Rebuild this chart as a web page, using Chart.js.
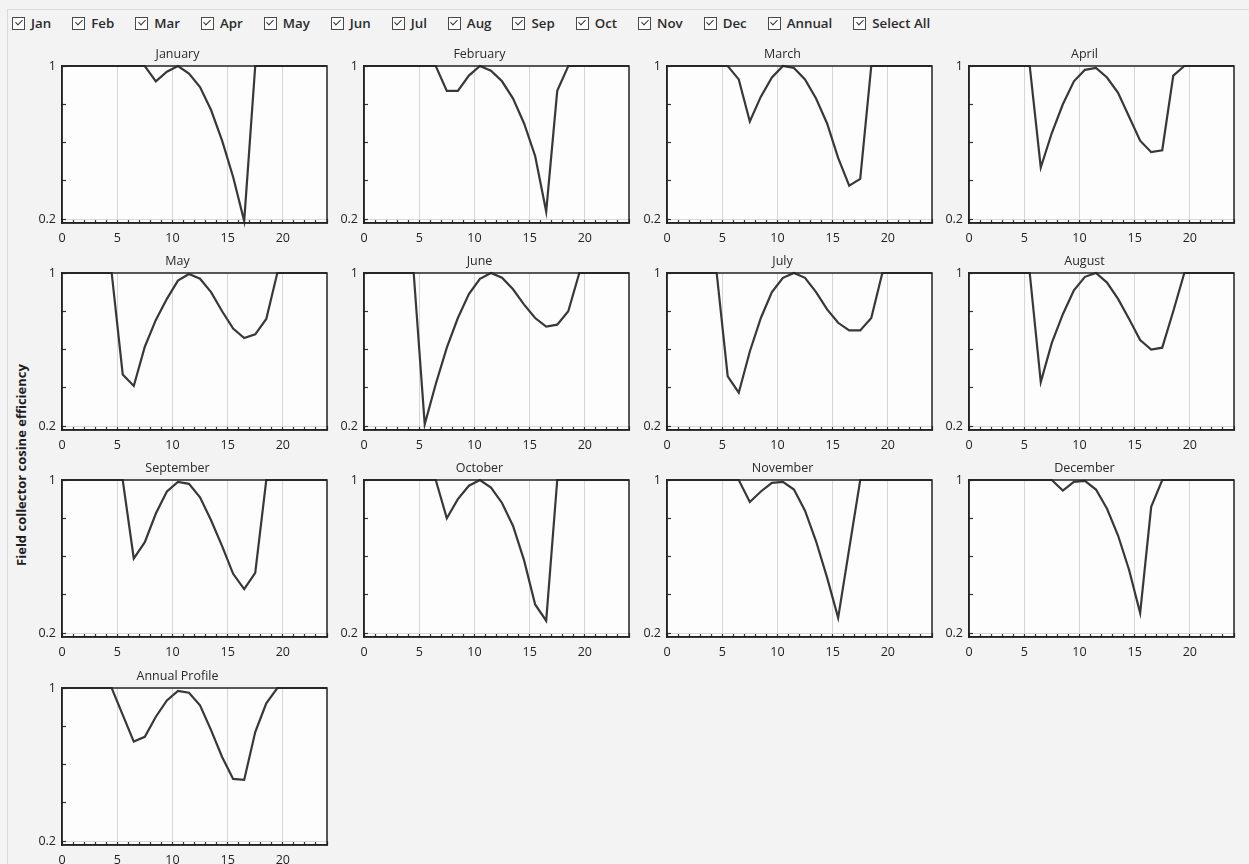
<!DOCTYPE html>
<html>
<head>
<meta charset="utf-8">
<script src="https://cdn.jsdelivr.net/npm/chart.js@4.4.0/dist/chart.umd.min.js"></script>
<style>
  html, body { margin:0; padding:0; width:1249px; height:864px; overflow:hidden; background:#f3f3f3; font-family:"Open Sans", sans-serif; }
  #frame { position:absolute; left:7px; top:9px; width:1260px; height:870px; border-left:1px solid #dcdcdc; border-top:1px solid #dcdcdc; }
  #legend { position:absolute; left:12px; top:15px; display:flex; align-items:center; }
  .item { display:flex; align-items:center; margin-right:21px; font-size:13.3px; font-weight:600; color:#2b2b2b; line-height:16px; }
  .box { width:11px; height:11px; border:1px solid #4a4a4a; margin-right:6px; position:relative; background:#fff; }
  .box::after { content:''; position:absolute; left:3.5px; top:0.5px; width:3px; height:6px; border:solid #333; border-width:0 1.4px 1.4px 0; transform:rotate(45deg); }
  #ytitle { position:absolute; left:21px; top:465px; transform:translate(-50%,-50%) rotate(-90deg); font-weight:700; font-size:13px; white-space:nowrap; color:#1e1e1e; }
  canvas { position:absolute; }
</style>
</head>
<body>
<div id="frame"></div>
<div id="legend"></div>
<div id="ytitle">Field collector cosine efficiency</div>
<script>
// ---- data ----
const legendLabels = ["Jan","Feb","Mar","Apr","May","Jun","Jul","Aug","Sep","Oct","Nov","Dec","Annual","Select All"];
const panelTitles = ["January","February","March","April","May","June","July","August","September","October","November","December","Annual Profile"];
const hours = [0,0.5,1.5,2.5,3.5,4.5,5.5,6.5,7.5,8.5,9.5,10.5,11.5,12.5,13.5,14.5,15.5,16.5,17.5,18.5,19.5,20.5,21.5,22.5,23.5,24];
const xTicks = [0,1,2,3,4,5,6,7,8,9,10,11,12,13,14,15,16,17,18,19,20,21,22,23,24];
const xLabels = [0,5,10,15,20];
const xGridValues = [5,10,15,20];
const yTicks = [0.2,0.4,0.6,0.8,1];
const yLabels = [0.2,1];

const jan = [1,1,1,1,1,1,1,1,1,0.92,0.97,1.0,0.96,0.89,0.77,0.61,0.42,0.19,1,1,1,1,1,1,1,1];
const feb = [1,1,1,1,1,1,1,1,0.87,0.87,0.95,1.0,0.975,0.92,0.83,0.70,0.53,0.24,0.87,1,1,1,1,1,1,1];
const mar = [1,1,1,1,1,1,1,0.93,0.71,0.84,0.94,1.0,0.99,0.93,0.83,0.70,0.52,0.375,0.41,1,1,1,1,1,1,1];
const apr = [1,1,1,1,1,1,1,0.47,0.65,0.80,0.92,0.98,0.99,0.94,0.86,0.735,0.61,0.55,0.56,0.95,1,1,1,1,1,1];
const may = [1,1,1,1,1,1,0.47,0.41,0.615,0.755,0.865,0.96,0.995,0.97,0.90,0.80,0.71,0.66,0.68,0.76,1,1,1,1,1,1];
const jun = [1,1,1,1,1,1,0.21,0.42,0.61,0.765,0.89,0.97,1.0,0.975,0.915,0.835,0.765,0.72,0.73,0.80,1,1,1,1,1,1];
const jul = [1,1,1,1,1,1,0.46,0.375,0.59,0.765,0.90,0.975,1.0,0.975,0.90,0.81,0.74,0.70,0.70,0.765,1,1,1,1,1,1];
const aug = [1,1,1,1,1,1,1,0.43,0.635,0.785,0.91,0.98,1.0,0.95,0.865,0.76,0.65,0.60,0.61,0.80,1,1,1,1,1,1];
const sep = [1,1,1,1,1,1,1,0.59,0.675,0.825,0.94,0.99,0.98,0.91,0.79,0.655,0.51,0.43,0.515,1,1,1,1,1,1,1];
const oct = [1,1,1,1,1,1,1,1,0.80,0.90,0.97,1.0,0.96,0.88,0.76,0.58,0.35,0.265,1,1,1,1,1,1,1,1];
const nov = [1,1,1,1,1,1,1,1,0.885,0.94,0.985,0.99,0.95,0.84,0.68,0.49,0.28,0.64,1,1,1,1,1,1,1,1];
const dec = [1,1,1,1,1,1,1,1,1,0.945,0.99,0.995,0.95,0.85,0.71,0.53,0.305,0.86,1,1,1,1,1,1,1,1];
const annual = [1,1,1,1,1,1,0.86,0.72,0.745,0.85,0.935,0.985,0.975,0.91,0.78,0.64,0.525,0.52,0.77,0.92,1,1,1,1,1,1];

const seriesList = [jan,feb,mar,apr,may,jun,jul,aug,sep,oct,nov,dec,annual];

// ---- legend (UI) ----
const legend = document.getElementById('legend');
legendLabels.forEach(l => {
  const it = document.createElement('div'); it.className = 'item';
  const b = document.createElement('span'); b.className = 'box';
  const t = document.createElement('span'); t.textContent = l;
  it.appendChild(b); it.appendChild(t); legend.appendChild(it);
});

// ---- layout ----
const AXIS_W = 34, XAXIS_H = 24, TITLE_H = 20, PLOT_W = 265, PLOT_H = 157, RIGHT_PAD = 3;
const COL_X0 = 62, COL_PITCH = 302.4;
const ROW_TOPS = [66, 273, 480, 688];

const framePlugin = {
  id: 'frame',
  beforeDraw(chart) {
    const a = chart.chartArea, c = chart.ctx;
    c.save(); c.fillStyle = '#fdfdfd'; c.fillRect(a.left, a.top, a.right - a.left, a.bottom - a.top); c.restore();
  },
  afterDraw(chart) {
    const a = chart.chartArea, c = chart.ctx;
    c.save(); c.strokeStyle = '#222'; c.lineWidth = 1.5;
    c.strokeRect(a.left, a.top, a.right - a.left, a.bottom - a.top); c.restore();
  }
};

const tickFont = { family: 'Open Sans', size: 12.5 };

seriesList.forEach((vals, i) => {
  const col = i % 4, row = Math.floor(i / 4);
  const cv = document.createElement('canvas');
  const w = AXIS_W + PLOT_W + RIGHT_PAD, h = TITLE_H + PLOT_H + XAXIS_H;
  cv.width = w; cv.height = h;
  cv.style.width = w + 'px'; cv.style.height = h + 'px';
  cv.style.left = Math.round(COL_X0 + COL_PITCH * col - AXIS_W) + 'px';
  cv.style.top = (ROW_TOPS[row] - TITLE_H) + 'px';
  document.body.appendChild(cv);

  new Chart(cv, {
    type: 'line',
    data: { datasets: [{
      data: hours.map((hh, k) => ({ x: hh, y: vals[k] })),
      borderColor: '#383838', borderWidth: 2.2, pointRadius: 0, tension: 0, clip: false
    }] },
    options: {
      responsive: false, animation: false, events: [],
      layout: { padding: { top: 0, right: RIGHT_PAD, bottom: 0, left: 0 } },
      plugins: {
        legend: { display: false }, tooltip: { enabled: false },
        title: { display: true, text: panelTitles[i], color: '#2a2a2a',
                 font: { family: 'Open Sans', size: 12.5, weight: 'normal', lineHeight: 1.2 },
                 padding: { top: 1, bottom: 4 } }
      },
      scales: {
        x: {
          type: 'linear', min: 0, max: 24,
          afterBuildTicks: s => { s.ticks = xTicks.map(v => ({ value: v })); },
          afterFit: s => { s.height = XAXIS_H; s.paddingLeft = 0; s.paddingRight = 0; },
          ticks: { autoSkip: false, maxRotation: 0, padding: 12, color: '#222', font: tickFont,
                   callback: v => xLabels.includes(v) ? String(v) : '' },
          grid: { color: ctx => (ctx.tick && xGridValues.includes(ctx.tick.value)) ? '#d6d6d6' : 'rgba(0,0,0,0)',
                  tickColor: '#333', tickLength: -4, lineWidth: 1, tickWidth: 1.2 },
          border: { display: true, color: '#222', width: 1.5 }
        },
        y: {
          type: 'linear', min: 0.18, max: 1,
          afterBuildTicks: s => { s.ticks = yTicks.map(v => ({ value: v })); },
          afterFit: s => { s.width = AXIS_W; s.paddingTop = 0; s.paddingBottom = 0; },
          ticks: { padding: 10, color: '#222', font: tickFont,
                   callback: v => yLabels.includes(v) ? String(v) : '' },
          grid: { color: ctx => (ctx.tick && ctx.tick.value === 0.2) ? '#dadada' : 'rgba(0,0,0,0)',
                  tickColor: '#333', tickLength: -4, lineWidth: 1, tickWidth: 1.2 },
          border: { display: true, color: '#222', width: 1.5 }
        }
      }
    },
    plugins: [framePlugin]
  });
});
</script>
</body>
</html>
